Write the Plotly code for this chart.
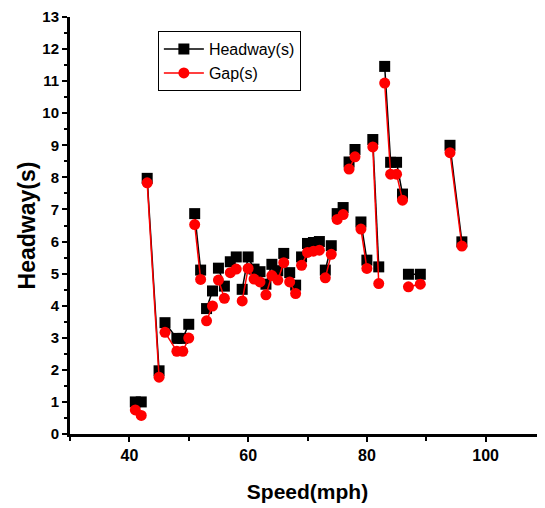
import plotly.graph_objects as go

# speed (mph); None breaks the line between groups of records
speed = [41, 42, None, 43, 45, None, 46, 48, 49, 50, None, 51, 52, None, 53, 54, None,
         55, 56, None, 57, 58, None, 59, 60, 61, 62, None, 63, 64, 65, 66, None, 67, 68, None,
         69, 70, 71, 72, None, 73, 74, None, 75, 76, None, 77, 78, None, 79, 80, None,
         81, 82, None, 83, 84, 85, 86, None, 87, 89, None, 94, 96]

headway = [1.0, 1.0, None, 7.97, 1.97, None, 3.47, 2.98, 2.98, 3.42, None, 6.87, 5.11, None,
           3.91, 4.46, None, 5.17, 4.61, None, 5.37, 5.52, None, 4.51, 5.52, 5.14, 5.06, None,
           4.67, 5.29, 5.09, 5.63, None, 5.03, 4.64, None, 5.52, 5.94, 5.97, 6.0, None,
           5.11, 5.87, None, 6.87, 7.06, None, 8.48, 8.87, None, 6.61, 5.42, None,
           9.18, 5.21, None, 11.46, 8.47, 8.47, 7.48, None, 4.98, 4.98, None, 9.0, 5.99]

gap = [0.75, 0.58, None, 7.83, 1.77, None, 3.17, 2.58, 2.58, 2.99, None, 6.53, 4.82, None,
       3.53, 3.99, None, 4.80, 4.23, None, 5.03, 5.14, None, 4.15, 5.16, 4.83, 4.74, None,
       4.34, 4.94, 4.80, 5.34, None, 4.74, 4.38, None, 5.26, 5.66, 5.70, 5.73, None,
       4.87, 5.60, None, 6.69, 6.84, None, 8.26, 8.64, None, 6.39, 5.16, None,
       8.95, 4.69, None, 10.94, 8.1, 8.1, 7.29, None, 4.59, 4.67, None, 8.77, 5.86]

font = 'Arial, Liberation Sans, sans-serif'

tr_headway = go.Scatter(x=speed, y=headway, mode='lines+markers', name='Headway(s)',
                        line=dict(color='black', width=1.5),
                        marker=dict(symbol='square', size=11, color='black'))
tr_gap = go.Scatter(x=speed, y=gap, mode='lines+markers', name='Gap(s)',
                    line=dict(color='red', width=1.5),
                    marker=dict(symbol='circle', size=11, color='red'))

# page body has an 8px margin, so the figure is sized/offset to fit the window
layout = go.Layout(
    width=537, height=500,
    margin=dict(l=62, r=0, t=9, b=74),
    plot_bgcolor='white', paper_bgcolor='white',
    font=dict(family=font, color='black'),
    showlegend=True,
    legend=dict(x=0.185, y=0.966, xanchor='left', yanchor='top',
                bordercolor='black', borderwidth=1, bgcolor='white',
                font=dict(size=16, family=font), tracegroupgap=0, itemwidth=40),
    xaxis=dict(range=[30, 110], tickvals=[40, 60, 80, 100], showgrid=False, zeroline=False,
               automargin=False,
               showline=True, linecolor='black', linewidth=3,
               ticks='outside', ticklen=5, tickwidth=2, tickcolor='black',
               tickfont=dict(size=16, family=font, weight='bold'),
               minor=dict(tickvals=[30, 50, 70, 90, 110], ticks='outside', ticklen=4,
                          tickwidth=2, tickcolor='black'),
               title=dict(text='<b>Speed(mph)</b>', font=dict(size=21, family=font), standoff=22)),
    yaxis=dict(range=[0, 13], dtick=1, showgrid=False, zeroline=False,
               automargin=False,
               showline=True, linecolor='black', linewidth=3,
               ticks='outside', ticklen=5, tickwidth=2, tickcolor='black',
               tickfont=dict(size=15, family=font, weight='bold'),
               minor=dict(dtick=0.5, ticks='outside', ticklen=3, tickwidth=2, tickcolor='black'),
               title=dict(text='<b>Headway(s)</b>', font=dict(size=23, family=font), standoff=1)),
)

fig = go.Figure(data=[tr_headway, tr_gap], layout=layout)
fig.write_html('out.html')
